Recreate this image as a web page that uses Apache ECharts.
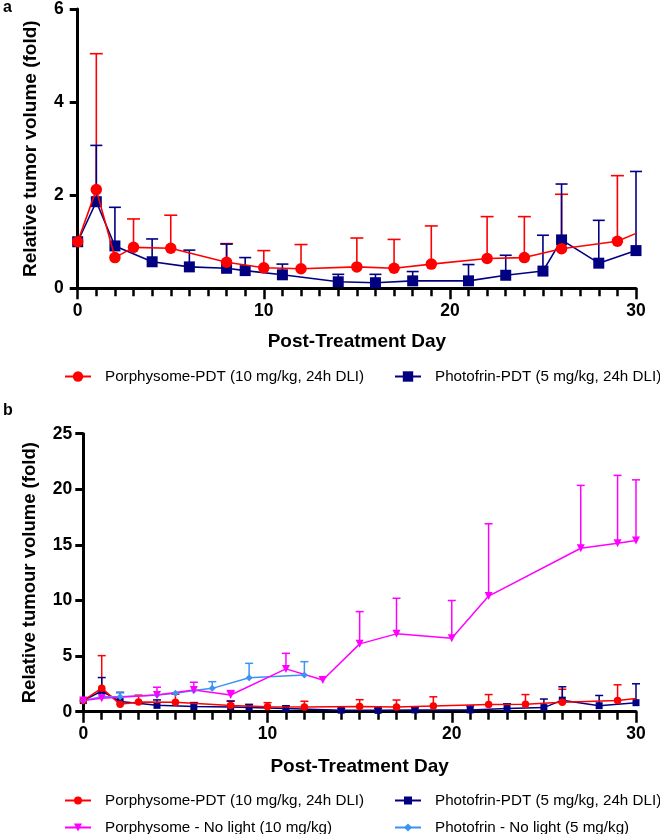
<!DOCTYPE html>
<html>
<head>
<meta charset="utf-8">
<script src="https://cdn.jsdelivr.net/npm/echarts@6/dist/echarts.min.js"></script>
<style>
html,body{margin:0;padding:0;background:#fff;}
#c{width:660px;height:834px;}
</style>
</head>
<body>
<div id="c"></div>
<script>
// ---------------- DATA ----------------
const nameRedPDT   = 'Porphysome-PDT (10 mg/kg, 24h DLI)';
const nameBluePDT  = 'Photofrin-PDT (5 mg/kg, 24h DLI)';
const namePinkNL   = 'Porphysome - No light (10 mg/kg)';
const nameLBlueNL  = 'Photofrin - No light (5 mg/kg)';

const xAxisTitle = 'Post-Treatment Day';
const yTitleA = 'Relative tumor volume (fold)';
const yTitleB = 'Relative tumour volume (fold)';
const panelLabels = ['a', 'b'];

const xMin = 0, xMax = 30, xStep = 10;
const yAMin = 0, yAMax = 6, yAStep = 2;
const yBMin = 0, yBMax = 25, yBStep = 5;

// Porphysome-PDT
const redDays  = [0, 1, 2, 3, 5, 8, 10, 12, 15, 17, 19, 22, 24, 26, 29, 30];
const redMean  = [1.0, 2.12, 0.66, 0.88, 0.86, 0.56, 0.44, 0.42, 0.46, 0.43, 0.52, 0.64, 0.66, 0.85, 1.01, 1.18];
const redUpper = [null, 5.04, null, 1.49, 1.57, 0.96, 0.81, 0.94, 1.08, 1.05, 1.34, 1.54, 1.54, 2.02, 2.42, null];
const redNoMarkerDays = [30];

// Photofrin-PDT
const blueDays  = [0, 1, 2, 4, 6, 8, 9, 11, 14, 16, 18, 21, 23, 25, 26, 28, 30];
const blueMean  = [1.0, 1.86, 0.91, 0.57, 0.46, 0.43, 0.38, 0.29, 0.14, 0.12, 0.16, 0.16, 0.28, 0.37, 1.04, 0.54, 0.81];
const blueUpper = [null, 3.07, 1.74, 1.06, 0.82, 0.95, 0.66, 0.52, 0.30, 0.30, 0.36, 0.51, 0.71, 1.14, 2.24, 1.46, 2.51];

// Porphysome - No light
const pinkDays  = [0, 1, 4, 6, 8, 11, 13, 15, 17, 20, 22, 27, 29, 30];
const pinkMean  = [1.0, 1.2, 1.5, 1.95, 1.5, 3.85, 2.85, 6.1, 7.0, 6.6, 10.4, 14.7, 15.15, 15.4];
const pinkUpper = [null, null, 2.2, 2.65, 1.9, 5.25, 3.15, 9.0, 10.2, 10.0, 16.9, 20.35, 21.25, 20.85];

// Photofrin - No light
const lblueDays  = [0, 1, 2, 4, 5, 6, 7, 9, 12];
const lblueMean  = [1.0, 1.35, 1.35, 1.5, 1.65, 1.9, 2.1, 3.05, 3.3];
const lblueUpper = [null, null, 1.7, null, null, null, 2.7, 4.35, 4.5];

// ---------------- STYLE ----------------
const FONT = '"Liberation Sans", Arial, Helvetica, sans-serif';
const RED = '#ff0000', NAVY = '#000080', PINK = '#ff00ff', LBLUE = '#3b93f2';

function pts(days, vals, hiddenDays) {
  return days.map((d, i) => {
    const it = { value: [d, vals[i]] };
    if (hiddenDays && hiddenDays.indexOf(d) >= 0) it.symbol = 'none';
    return it;
  });
}
function errPts(days, vals, upper) {
  const out = [];
  days.forEach((d, i) => { if (upper[i] != null) out.push([d, vals[i], upper[i]]); });
  return out;
}
function errRender(capHalf, color, lw) {
  return function (params, api) {
    const x = api.value(0), y = api.value(1), hi = api.value(2);
    const p0 = api.coord([x, y]);
    const p1 = api.coord([x, hi]);
    return {
      type: 'group',
      children: [
        { type: 'line', shape: { x1: p0[0], y1: p0[1], x2: p1[0], y2: p1[1] }, style: { stroke: color, lineWidth: lw } },
        { type: 'line', shape: { x1: p1[0] - capHalf, y1: p1[1], x2: p1[0] + capHalf, y2: p1[1] }, style: { stroke: color, lineWidth: lw } }
      ]
    };
  };
}
function lineSeries(name, idx, days, vals, color, symbol, size, lw, z, hidden) {
  return {
    type: 'line', name: name, xAxisIndex: idx, yAxisIndex: idx,
    data: pts(days, vals, hidden), symbol: symbol, symbolSize: size,
    lineStyle: { color: color, width: lw }, itemStyle: { color: color },
    showSymbol: true, z: z, clip: false, animation: false, emphasis: { disabled: true }
  };
}
function errSeries(idx, days, vals, upper, color, capHalf, lw, z) {
  return {
    type: 'custom', xAxisIndex: idx, yAxisIndex: idx,
    data: errPts(days, vals, upper), encode: { x: 0, y: [1, 2] },
    renderItem: errRender(capHalf, color, lw), z: z, clip: false, animation: false, silent: true
  };
}

function xAxisCfg(idx, nameGap, labelMargin) {
  return {
    type: 'value', gridIndex: idx, min: xMin, max: xMax, interval: xStep,
    name: xAxisTitle, nameLocation: 'middle', nameGap: nameGap,
    nameTextStyle: { fontFamily: FONT, fontWeight: 'bold', fontSize: 19, color: '#000' },
    axisLine: { show: true, lineStyle: { color: '#000', width: 3 } },
    axisTick: { show: true, length: 11, lineStyle: { color: '#000', width: 2.5 } },
    minorTick: { show: true, splitNumber: 10, length: 8, lineStyle: { color: '#000', width: 2.5 } },
    splitLine: { show: false }, minorSplitLine: { show: false },
    axisLabel: { margin: labelMargin, fontFamily: FONT, fontWeight: 'bold', fontSize: 17.5, color: '#000' }
  };
}
function yAxisCfg(idx, min, max, step, title, nameGap, labelMargin, titleSize) {
  return {
    type: 'value', gridIndex: idx, min: min, max: max, interval: step,
    name: title, nameLocation: 'middle', nameGap: nameGap,
    nameTextStyle: { fontFamily: FONT, fontWeight: 'bold', fontSize: titleSize, color: '#000' },
    axisLine: { show: true, lineStyle: { color: '#000', width: 3 } },
    axisTick: { show: true, length: 8, lineStyle: { color: '#000', width: 3 } },
    splitLine: { show: false },
    axisLabel: { margin: labelMargin, fontFamily: FONT, fontWeight: 'bold', fontSize: 17.5, color: '#000' }
  };
}
function legendCfg(name, left, top, itemH) {
  return {
    data: [name], left: left, top: top, itemWidth: 26, itemHeight: itemH,
    selectedMode: false,
    textStyle: { fontFamily: FONT, fontSize: 15.2, color: '#000', padding: [0, 0, 0, 9] }
  };
}

const chart = echarts.init(document.getElementById('c'), null, { renderer: 'canvas', width: 660, height: 834 });

const option = {
  backgroundColor: '#fff',
  animation: false,
  grid: [
    { left: 77.7, top: 7.3, width: 558.3, height: 281, containLabel: false },
    { left: 83.3, top: 433.7, width: 552.7, height: 278, containLabel: false }
  ],
  xAxis: [xAxisCfg(0, 44, 14), xAxisCfg(1, 46, 13.5)],
  yAxis: [
    yAxisCfg(0, yAMin, yAMax, yAStep, yTitleA, 37.7, 14, 19),
    yAxisCfg(1, yBMin, yBMax, yBStep, yTitleB, 44, 11, 18.5)
  ],
  legend: [
    legendCfg(nameRedPDT, 59, 364, 13),
    legendCfg(nameBluePDT, 389, 364, 13),
    legendCfg(nameRedPDT, 59, 788, 10),
    legendCfg(nameBluePDT, 389, 788, 10),
    legendCfg(namePinkNL, 59, 815, 10),
    legendCfg(nameLBlueNL, 389, 815, 10)
  ],
  graphic: [
    { type: 'text', left: 3, top: 0, style: { text: panelLabels[0], font: 'bold 16px ' + FONT, fill: '#000' } },
    { type: 'text', left: 3, top: 403, style: { text: panelLabels[1], font: 'bold 16px ' + FONT, fill: '#000' } }
  ],
  series: [
    // panel a
    errSeries(0, redDays, redMean, redUpper, RED, 6.5, 1.6, 2),
    errSeries(0, blueDays, blueMean, blueUpper, NAVY, 6, 1.6, 2),
    lineSeries(nameBluePDT, 0, blueDays, blueMean, NAVY, 'rect', 11, 1.6, 3),
    lineSeries(nameRedPDT, 0, redDays, redMean, RED, 'circle', 11.5, 1.6, 4, redNoMarkerDays),
    // panel b
    errSeries(1, redDays, redMean, redUpper, RED, 4, 1.5, 2),
    errSeries(1, blueDays, blueMean, blueUpper, NAVY, 4, 1.5, 2),
    errSeries(1, pinkDays, pinkMean, pinkUpper, PINK, 4, 1.5, 2),
    errSeries(1, lblueDays, lblueMean, lblueUpper, LBLUE, 4, 1.5, 2),
    lineSeries(nameBluePDT, 1, blueDays, blueMean, NAVY, 'rect', 7, 1.5, 3),
    lineSeries(nameRedPDT, 1, redDays, redMean, RED, 'circle', 7.5, 1.5, 4, redNoMarkerDays),
    lineSeries(nameLBlueNL, 1, lblueDays, lblueMean, LBLUE, 'diamond', 7, 1.5, 4),
    lineSeries(namePinkNL, 1, pinkDays, pinkMean, PINK, 'triangle', 8, 1.5, 4)
  ]
};
// inverted triangles for "No light" Porphysome
option.series[11].symbolRotate = 180;
chart.setOption(option);
</script>
</body>
</html>
